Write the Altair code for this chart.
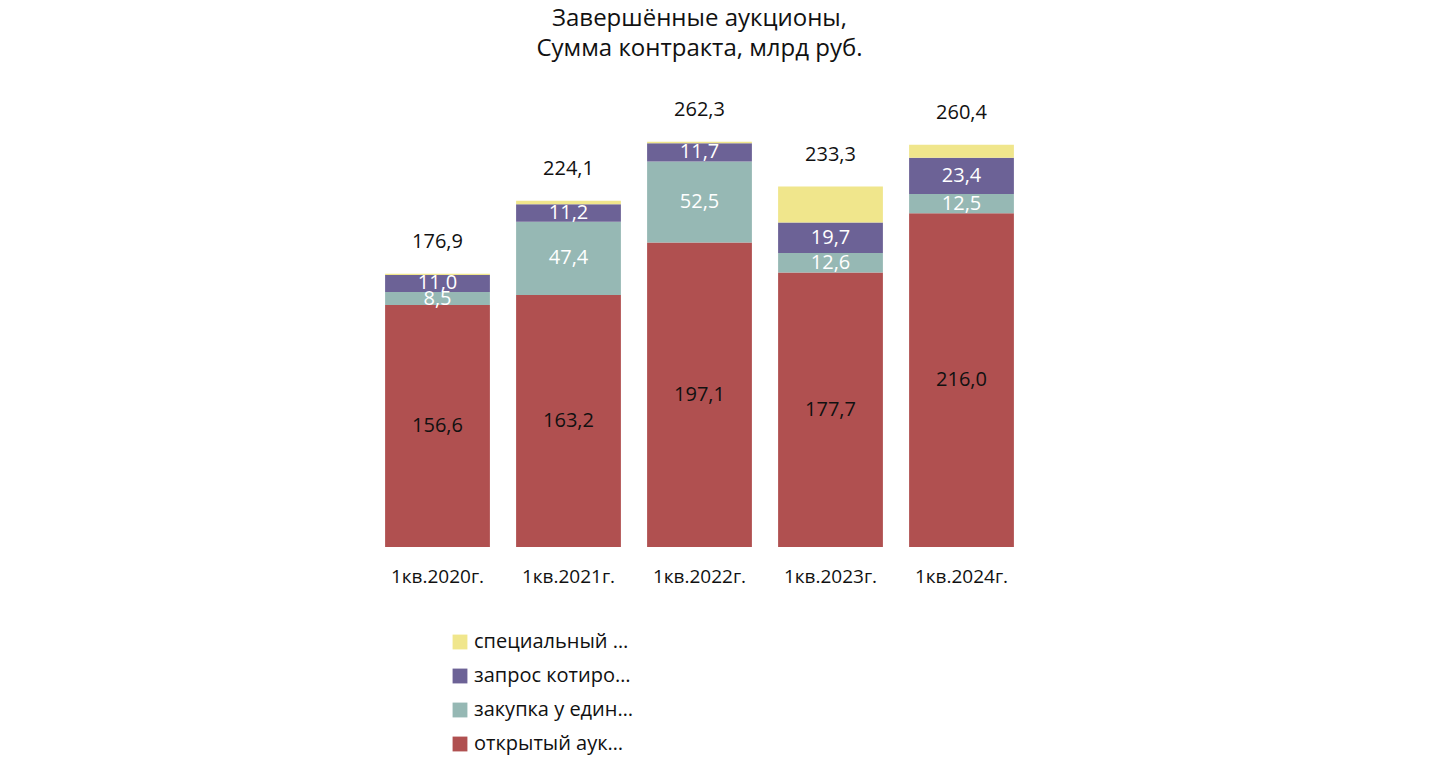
import pandas as pd
import altair as alt

FONT = "Open Sans"
quarters = ["1кв.2020г.", "1кв.2021г.", "1кв.2022г.", "1кв.2023г.", "1кв.2024г."]
series = ["открытый аукцион в электр. форме", "закупка у единств. поставщика",
          "запрос котировок, предложений", "специальный инвестиц. контракт (СПИК)"]
colors = ["#B05050", "#96B8B4", "#6C6296", "#F0E68C"]
label_colors = ["#111111", "#ffffff", "#ffffff", "#111111"]
open_auction = [156.6, 163.2, 197.1, 177.7, 216.0]
single_supplier = [8.5, 47.4, 52.5, 12.6, 12.5]
quotations = [11.0, 11.2, 11.7, 19.7, 23.4]
spik = [0.8, 2.3, 1.0, 23.3, 8.5]
totals = [176.9, 224.1, 262.3, 233.3, 260.4]

rows = []
for i, q in enumerate(quarters):
    for k, vals in enumerate([open_auction, single_supplier, quotations, spik]):
        rows.append({"q": q, "s": series[k], "v": vals[i], "o": k,
                     "lbl": f"{vals[i]:.1f}".replace(".", ",") if k < 3 else "",
                     "lc": label_colors[k]})
df = pd.DataFrame(rows)
tot = pd.DataFrame({"q": quarters, "t": totals,
                    "lbl": [f"{t:.1f}".replace(".", ",") for t in totals]})

x = alt.X("q:N", sort=quarters, title=None,
          scale=alt.Scale(paddingInner=0.2, paddingOuter=0.1),
          axis=alt.Axis(domain=False, ticks=False, labelAngle=0, labelFontSize=19,
                        labelPadding=20, labelColor="#111", labelFont=FONT))
yscale = alt.Scale(domain=[0, 290])

bars = alt.Chart(df).mark_bar().encode(
    x=x,
    y=alt.Y("v:Q", stack="zero", scale=yscale, axis=None),
    color=alt.Color("s:N", scale=alt.Scale(domain=series[::-1], range=colors[::-1]),
                    legend=alt.Legend(title=None, orient="none", legendX=78, legendY=533,
                                      symbolType="square", symbolSize=220,
                                      labelFontSize=20, labelFont=FONT, labelColor="#111",
                                      rowPadding=14, symbolStrokeWidth=0)),
    order=alt.Order("o:Q"),
)

seg = alt.Chart(df).transform_stack(
    stack="v", groupby=["q"], sort=[alt.SortField("o")], as_=["y0", "y1"]
).transform_calculate(mid="(datum.y0 + datum.y1) / 2").mark_text(
    fontSize=20, font=FONT
).encode(
    x=alt.X("q:N", sort=quarters),
    y=alt.Y("mid:Q", scale=yscale),
    text="lbl:N",
    color=alt.Color("lc:N", scale=None),
)

top = alt.Chart(tot).mark_text(fontSize=20, font=FONT, dy=-32, color="#111").encode(
    x=alt.X("q:N", sort=quarters),
    y=alt.Y("t:Q", scale=yscale),
    text="lbl:N",
)

chart = alt.layer(bars, seg, top).properties(
    width=655, height=448,
    autosize=alt.AutoSizeParams(type="none"),
    padding={"left": 364, "top": 91, "right": 10, "bottom": 220},
    title=alt.TitleParams(["Завершённые аукционы,", "Сумма контракта, млрд руб."],
                          fontSize=24, font=FONT, fontWeight="normal", color="#111",
                          anchor="middle", offset=38, lineHeight=30),
    background="white",
).configure_view(stroke=None)

chart.save("out.html", embed_options={"renderer": "svg", "actions": False})
